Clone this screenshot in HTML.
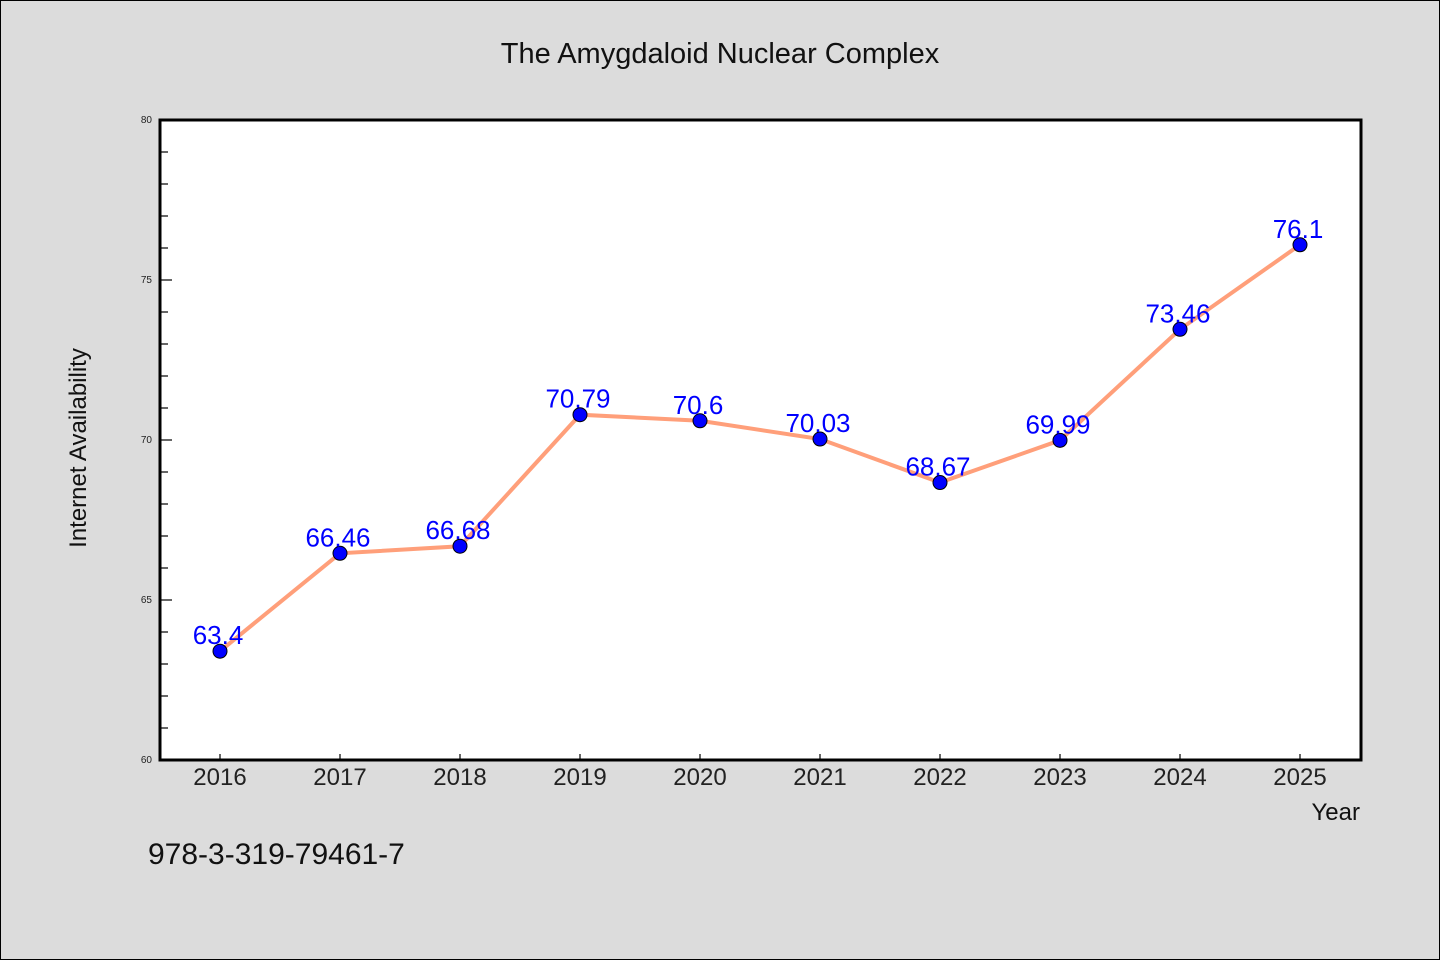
<!DOCTYPE html>
<html><head><meta charset="utf-8"><style>
body{margin:0;background:#dcdcdc}
svg{display:block}
text{font-family:"WenQuanYi Zen Hei","Liberation Sans",sans-serif}
</style></head><body>
<svg width="1440" height="960">
<rect x="0.5" y="0.5" width="1439" height="959" fill="#dcdcdc" stroke="#000"/>
<text x="720" y="63" text-anchor="middle" font-size="29" fill="#111">The Amygdaloid Nuclear Complex</text>
<rect x="160" y="120" width="1201" height="640" fill="#fff"/>
<g id="axes"></g>
<g id="marks"></g>
<path d="M160,120H1361V760H160Z" fill="none" stroke="#000" stroke-width="3"/>
<text x="86" y="448" transform="rotate(-90 86 448)" text-anchor="middle" font-size="24" fill="#111">Internet Availability</text>
<text x="1360" y="820" text-anchor="end" font-size="24" fill="#111">Year</text>
<text x="148" y="864" font-size="30" fill="#111">978-3-319-79461-7</text>
</svg>
<script>
const categories=["2016","2017","2018","2019","2020","2021","2022","2023","2024","2025"];
const values=[63.4,66.46,66.68,70.79,70.6,70.03,68.67,69.99,73.46,76.1];
const valueLabels=["63.4","66.46","66.68","70.79","70.6","70.03","68.67","69.99","73.46","76.1"];
const yTicks=[60,65,70,75,80];
const NS="http://www.w3.org/2000/svg";
const x=i=>220+i*120;
const y=v=>760-(v-60)*32;
function mk(t,a,p){const e=document.createElementNS(NS,t);for(const k in a)e.setAttribute(k,a[k]);p.appendChild(e);return e;}
const ax=document.getElementById('axes'),mg=document.getElementById('marks');
for(let v=60;v<=80;v++){
 const major=yTicks.includes(v);
 const l=mk('line',{x1:160,x2:160+(major?12:8),y1:y(v),y2:y(v),stroke:'#000','stroke-width':1.2},ax);
 
 
}
yTicks.forEach(v=>{
 const t=mk('text',{x:152,y:y(v)+3,'text-anchor':'end','font-size':10,fill:'#222'},ax);t.textContent=v;
 
 
});
categories.forEach((c,i)=>{
 const l=mk('line',{x1:x(i),x2:x(i),y1:760,y2:754,stroke:'#000','stroke-width':1.2},ax);
 
 
 const t=mk('text',{x:x(i),y:785,'text-anchor':'middle','font-size':24,fill:'#222'},ax);t.textContent=c;
 
 
});
const line=mk('polyline',{points:values.map((v,i)=>x(i)+','+y(v)).join(' '),fill:'none',stroke:'#ff9f7a','stroke-width':4},mg);


values.forEach((v,i)=>{
 const c=mk('circle',{cx:x(i),cy:y(v),r:7,fill:'#0000ff',stroke:'#000','stroke-width':1},mg);
 
 
});
values.forEach((v,i)=>{
 const t=mk('text',{x:x(i)-2,y:y(v)-7,'text-anchor':'middle','font-size':26,fill:'#0000ff'},mg);t.textContent=valueLabels[i];
 
 
});
</script>
</body></html>
